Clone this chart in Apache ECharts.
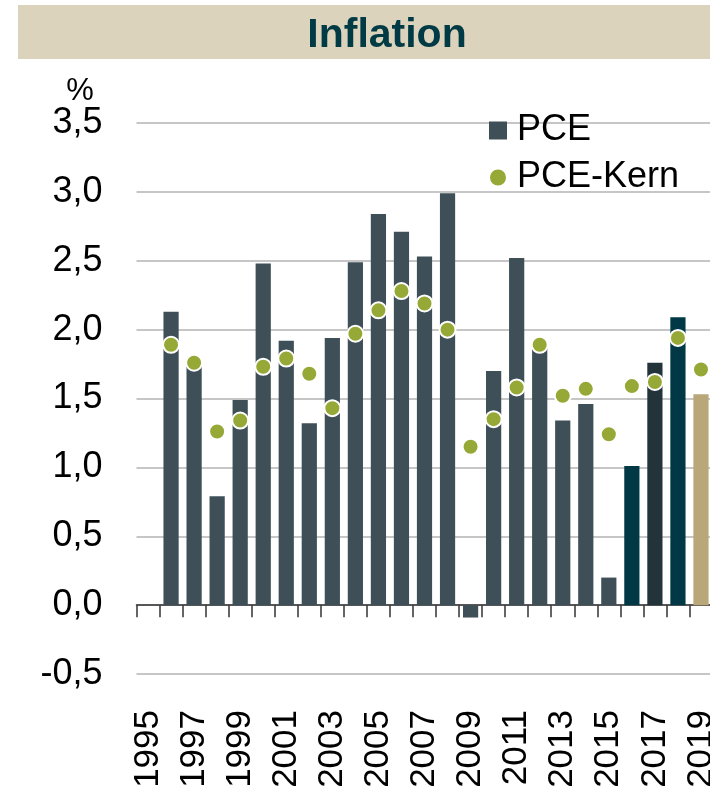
<!DOCTYPE html>
<html>
<head>
<meta charset="utf-8">
<title>Inflation</title>
<script src="https://cdn.jsdelivr.net/npm/echarts@6/dist/echarts.min.js"></script>
<style>
  html, body { margin: 0; padding: 0; background: #fff; }
  #chart { width: 710px; height: 790px; }
</style>
</head>
<body>
<div id="chart"></div>
<script>
// Jahre 1995 - 2019
var years = ['1995', '1996', '1997', '1998', '1999', '2000', '2001', '2002', '2003', '2004',
  '2005', '2006', '2007', '2008', '2009', '2010', '2011', '2012', '2013', '2014',
  '2015', '2016', '2017', '2018', '2019'];
// PCE (Balken)
var pce = [null, 2.13, 1.75, 0.79, 1.49, 2.48, 1.92, 1.32, 1.94, 2.49,
  2.84, 2.71, 2.53, 2.99, -0.09, 1.70, 2.52, 1.89, 1.34, 1.46,
  0.20, 1.01, 1.76, 2.09, 1.53];
// PCE-Kern (Punkte)
var pceKern = [null, 1.89, 1.76, 1.26, 1.34, 1.73, 1.79, 1.68, 1.43, 1.97,
  2.14, 2.28, 2.19, 2.00, 1.15, 1.35, 1.58, 1.89, 1.52, 1.57,
  1.24, 1.59, 1.62, 1.94, 1.71];
var yTicks = [-0.5, 0, 0.5, 1, 1.5, 2, 2.5, 3, 3.5];

// Sonderfarben fuer die letzten Jahre
var barColor = '#3e4f57';
var dotColor = '#96a836';
var specialColors = { '2016': '#003845', '2017': '#22343a', '2018': '#003845', '2019': '#b9a77a' };

var chart = echarts.init(document.getElementById('chart'), null, { renderer: 'canvas' });

var font = 'Liberation Sans, Arial, sans-serif';

var option = {
  animation: false,
  textStyle: { fontFamily: font },
  graphic: [
    {
      type: 'rect',
      shape: { x: 18, y: 5, width: 700, height: 54 },
      style: { fill: '#dbd3bc' },
      z: 0
    },
    {
      type: 'text',
      x: 387,
      y: 36,
      style: {
        text: 'Inflation',
        fill: '#003a45',
        font: 'bold 41px ' + font,
        textAlign: 'center',
        textVerticalAlign: 'middle'
      },
      z: 1
    },
    {
      type: 'text',
      x: 80,
      y: 91,
      style: {
        text: '%',
        fill: '#000',
        font: '31px ' + font,
        textAlign: 'center',
        textVerticalAlign: 'middle'
      }
    }
  ],
  legend: {
    orient: 'vertical',
    left: 488,
    top: 112,
    padding: 0,
    itemWidth: 18,
    itemHeight: 18,
    itemGap: 10,
    textStyle: { fontSize: 36, lineHeight: 37, color: '#000', fontFamily: font, padding: [0, 0, 0, 5] },
    data: [
      { name: 'PCE', icon: 'rect', itemStyle: { color: barColor } },
      { name: 'PCE-Kern', icon: 'circle', itemStyle: { color: dotColor, borderColor: '#fff', borderWidth: 2 } }
    ]
  },
  grid: {
    left: 136.5,
    top: 123,
    width: 576,
    height: 551,
    outerBoundsMode: 'none',
    containLabel: false
  },
  xAxis: {
    type: 'category',
    data: years,
    axisLine: { onZero: true, lineStyle: { color: '#333', width: 1.5 } },
    axisTick: { show: true, length: 12, interval: 0, lineStyle: { color: '#333', width: 1.5 } },
    axisLabel: {
      interval: 1,
      rotate: 90,
      margin: 36,
      fontSize: 35,
      color: '#000',
      fontFamily: font
    },
    splitLine: { show: false }
  },
  yAxis: {
    type: 'value',
    min: yTicks[0],
    max: yTicks[yTicks.length - 1],
    interval: 0.5,
    axisLine: { show: false },
    axisTick: { show: false },
    axisLabel: {
      margin: 34,
      fontSize: 36,
      color: '#000',
      fontFamily: font,
      formatter: function (v) { return v.toFixed(1).replace('.', ','); }
    },
    splitLine: { lineStyle: { color: '#b3b3b3', width: 1.5 } }
  },
  series: [
    {
      name: 'PCE',
      type: 'bar',
      data: pce,
      barCategoryGap: '34%',
      itemStyle: {
        color: function (p) {
          return specialColors[years[p.dataIndex]] || barColor;
        }
      },
      z: 2
    },
    {
      name: 'PCE-Kern',
      type: 'scatter',
      data: pceKern,
      symbol: 'circle',
      symbolSize: 16,
      itemStyle: { color: dotColor, borderColor: '#fff', borderWidth: 2, opacity: 1 },
      z: 3
    }
  ]
};

chart.setOption(option);
</script>
</body>
</html>
